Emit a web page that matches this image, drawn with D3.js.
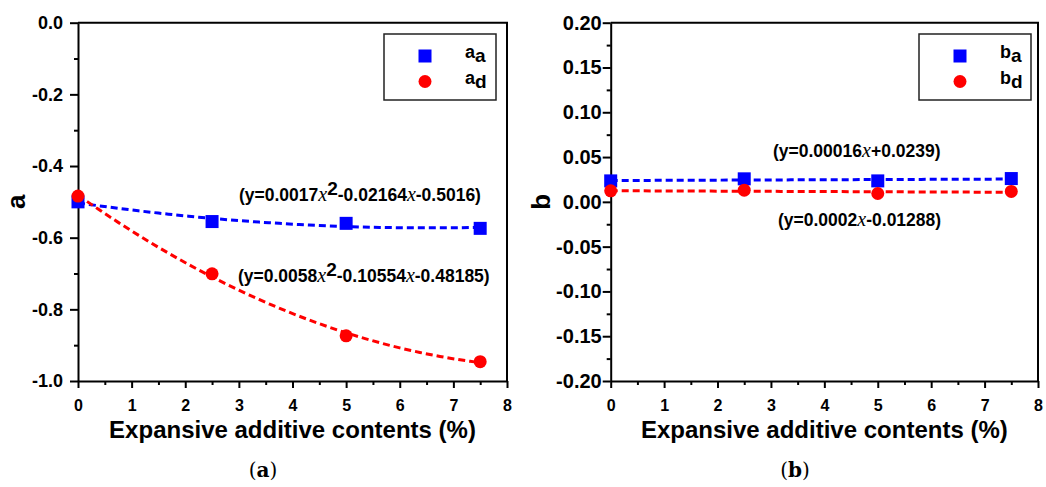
<!DOCTYPE html>
<html>
<head>
<meta charset="utf-8">
<script src="https://cdn.jsdelivr.net/npm/d3@7"></script>
<style>
body { margin: 0; background: #fff; }
svg { display: block; font-family: "Liberation Sans", Arial, sans-serif; }
</style>
</head>
<body>
<svg id="chart" width="1046" height="487"></svg>
<script>
// expansive additive contents (%)
const contents = [0, 2.5, 5, 7.5];
// panel (a): a_a and a_d
const aA = [-0.500, -0.555, -0.560, -0.574];
const aD = [-0.484, -0.701, -0.874, -0.946];
// panel (b): b_a and b_d
const bA = [0.0234, 0.0257, 0.0234, 0.0260];
const bD = [0.0123, 0.0130, 0.0093, 0.0116];

const xTicks = [0, 1, 2, 3, 4, 5, 6, 7, 8];
const aTicks = [0, -0.2, -0.4, -0.6, -0.8, -1.0];
const bTicks = [0.20, 0.15, 0.10, 0.05, 0, -0.05, -0.10, -0.15, -0.20];

// fitted equations as printed ("x" = italic x, "^" = superscript)
const eqAa = ["(y=0.0017", "x", "^2", "-0.02164", "x", "-0.5016)"];
const eqAd = ["(y=0.0058", "x", "^2", "-0.10554", "x", "-0.48185)"];
const eqBa = ["(y=0.00016", "x", "+0.0239)"];
const eqBd = ["(y=0.0002", "x", "-0.01288)"];

const svg = d3.select("#chart");

// least squares polynomial fit
function polyfit(xs, ys, deg) {
    const n = deg + 1;
    const M = [];
    for (let i = 0; i < n; i++) {
        M.push([]);
        for (let j = 0; j < n; j++) M[i].push(d3.sum(xs, v => Math.pow(v, i + j)));
        M[i].push(d3.sum(xs, (v, k) => Math.pow(v, i) * ys[k]));
    }
    for (let i = 0; i < n; i++) {
        for (let r = i + 1; r < n; r++) {
            const f = M[r][i] / M[i][i];
            for (let c = i; c <= n; c++) M[r][c] -= f * M[i][c];
        }
    }
    const coef = new Array(n).fill(0);
    for (let i = n - 1; i >= 0; i--) {
        let s = M[i][n];
        for (let j = i + 1; j < n; j++) s -= M[i][j] * coef[j];
        coef[i] = s / M[i][i];
    }
    return coef;
}
const polyval = (coef, v) => d3.sum(coef, (c, i) => c * Math.pow(v, i));

function equation(g, tokens, x, y) {
    const t = g.append("text")
        .attr("x", x).attr("y", y)
        .attr("font-size", 17.5).attr("font-weight", "bold");
    let shift = 0;
    tokens.forEach(tok => {
        let ts;
        if (tok === "x") {
            ts = t.append("tspan").text("x")
                .attr("font-family", "'Liberation Serif', 'Times New Roman', serif")
                .attr("font-style", "italic").attr("font-weight", "normal")
                .attr("font-size", 20);
        } else if (tok[0] === "^") {
            ts = t.append("tspan").text(tok.slice(1)).attr("font-size", 19);
            ts.attr("dy", shift - 6);
            shift = 6;
            return;
        } else {
            ts = t.append("tspan").text(tok);
        }
        if (shift) { ts.attr("dy", shift); shift = 0; }
    });
}

function drawPanel(p) {
    const g = svg.append("g");
    const x = d3.scaleLinear().domain([0, 8]).range([p.left, p.right]);
    const y = d3.scaleLinear().domain(p.yDomain).range([p.bottom, p.top]);

    // frame top + right
    g.append("path")
        .attr("d", `M${p.left},${p.top}H${p.right}V${p.bottom}`)
        .attr("fill", "none").attr("stroke", "#000").attr("stroke-width", 2);

    const xMinor = d3.range(0.5, 8, 1);
    const yMinor = p.ticks.slice(1).map((d, i) => (d + p.ticks[i]) / 2);

    const style = (sel, fs) => {
        sel.select(".domain").attr("stroke-width", 2);
        sel.selectAll(".tick line").attr("stroke-width", 2);
        sel.selectAll(".tick text")
            .attr("font-size", fs).attr("font-weight", "bold")
            .attr("font-family", "'Liberation Sans', Arial, sans-serif").attr("fill", "#000");
    };

    g.append("g").attr("transform", `translate(0,${p.bottom})`)
        .call(d3.axisBottom(x).tickValues(xMinor).tickSize(4).tickSizeOuter(0).tickFormat(""))
        .call(s => { s.select(".domain").remove(); s.selectAll("line").attr("stroke-width", 2); });
    g.append("g").attr("transform", `translate(0,${p.bottom})`)
        .call(d3.axisBottom(x).tickValues(xTicks).tickSize(7).tickSizeOuter(0)
            .tickPadding(12).tickFormat(d => String(d)))
        .call(s => style(s, 16));

    g.append("g").attr("transform", `translate(${p.left},0)`)
        .call(d3.axisLeft(y).tickValues(yMinor).tickSize(4).tickSizeOuter(0).tickFormat(""))
        .call(s => { s.select(".domain").remove(); s.selectAll("line").attr("stroke-width", 2); });
    g.append("g").attr("transform", `translate(${p.left},0)`)
        .call(d3.axisLeft(y).tickValues(p.ticks).tickSize(8).tickSizeOuter(0)
            .tickPadding(p.tickPad).tickFormat(d => d.toFixed(p.digits)))
        .call(s => style(s, p.tickFont));

    // axis titles
    g.append("text")
        .attr("x", (p.left + p.right) / 2).attr("y", 438)
        .attr("text-anchor", "middle").attr("font-size", 24).attr("font-weight", "bold")
        .text("Expansive additive contents (%)");
    g.append("text")
        .attr("transform", `translate(${p.yLabelX},${(p.top + p.bottom) / 2}) rotate(-90)`)
        .attr("text-anchor", "middle").attr("font-size", 26).attr("font-weight", "bold")
        .text(p.name);

    // caption
    const cap = g.append("text")
        .attr("x", p.captionX).attr("y", 477).attr("text-anchor", "middle")
        .attr("font-family", "'DejaVu Serif', 'Liberation Serif', serif").attr("font-size", 20);
    cap.append("tspan").text("(");
    cap.append("tspan").text(p.name).attr("font-weight", "bold");
    cap.append("tspan").text(")");

    // fit lines + markers
    const line = d3.line().x(d => x(d[0])).y(d => y(d[1]));
    p.series.forEach(s => {
        const coef = polyfit(contents, s.values, p.deg);
        const pts = d3.range(0, 7.5 + 1e-9, 0.1875).map(v => [v, polyval(coef, v)]);
        g.append("path").datum(pts).attr("d", line)
            .attr("fill", "none").attr("stroke", s.color)
            .attr("stroke-width", 3).attr("stroke-dasharray", "7,4");
    });
    p.series.forEach(s => {
        const pts = contents.map((c, i) => [c, s.values[i]]);
        if (s.shape === "square") {
            g.selectAll(null).data(pts).enter().append("rect")
                .attr("x", d => x(d[0]) - 6.5).attr("y", d => y(d[1]) - 6.5)
                .attr("width", 13).attr("height", 13).attr("fill", s.color);
        } else {
            g.selectAll(null).data(pts).enter().append("circle")
                .attr("cx", d => x(d[0])).attr("cy", d => y(d[1]))
                .attr("r", 6.5).attr("fill", s.color);
        }
    });

    p.eqs.forEach(e => equation(g, e.tokens, e.x, e.y));

    // legend
    const L = p.legend;
    g.append("rect").attr("x", L.x).attr("y", L.y).attr("width", L.w).attr("height", L.h)
        .attr("fill", "#fff").attr("stroke", "#222").attr("stroke-width", 1.5);
    p.series.forEach((s, i) => {
        const cy = L.y + 22 + i * 25.5;
        const mx = L.x + L.mx;
        if (s.shape === "square") {
            g.append("rect").attr("x", mx - 6.5).attr("y", cy - 6.5)
                .attr("width", 13).attr("height", 13).attr("fill", s.color);
        } else {
            g.append("circle").attr("cx", mx).attr("cy", cy).attr("r", 6.5).attr("fill", s.color);
        }
        const t = g.append("text").attr("x", L.x + L.tx).attr("y", cy + 2)
            .attr("font-size", 18).attr("font-weight", "bold");
        t.append("tspan").text(p.name);
        t.append("tspan").text(s.sub).attr("dy", 4).attr("font-size", 19);
    });
}

drawPanel({
    name: "a", left: 78, right: 507, top: 22.7, bottom: 381,
    yDomain: [-1, 0], ticks: aTicks, digits: 1, tickFont: 18, tickPad: 7,
    yLabelX: 25, captionX: 263, deg: 2,
    series: [
        { values: aA, color: "#0000ff", shape: "square", sub: "a" },
        { values: aD, color: "#ff0000", shape: "circle", sub: "d" }
    ],
    eqs: [
        { tokens: eqAa, x: 239, y: 201 },
        { tokens: eqAd, x: 238, y: 282 }
    ],
    legend: { x: 384, y: 34, w: 112, h: 66, mx: 41, tx: 81 }
});

drawPanel({
    name: "b", left: 610.7, right: 1038, top: 22.7, bottom: 381,
    yDomain: [-0.2, 0.2], ticks: bTicks, digits: 2, tickFont: 20, tickPad: 1,
    yLabelX: 550, captionX: 795, deg: 1,
    series: [
        { values: bA, color: "#0000ff", shape: "square", sub: "a" },
        { values: bD, color: "#ff0000", shape: "circle", sub: "d" }
    ],
    eqs: [
        { tokens: eqBa, x: 773, y: 157 },
        { tokens: eqBd, x: 778, y: 226 }
    ],
    legend: { x: 919, y: 34, w: 112, h: 66, mx: 41, tx: 81 }
});
</script>
</body>
</html>
